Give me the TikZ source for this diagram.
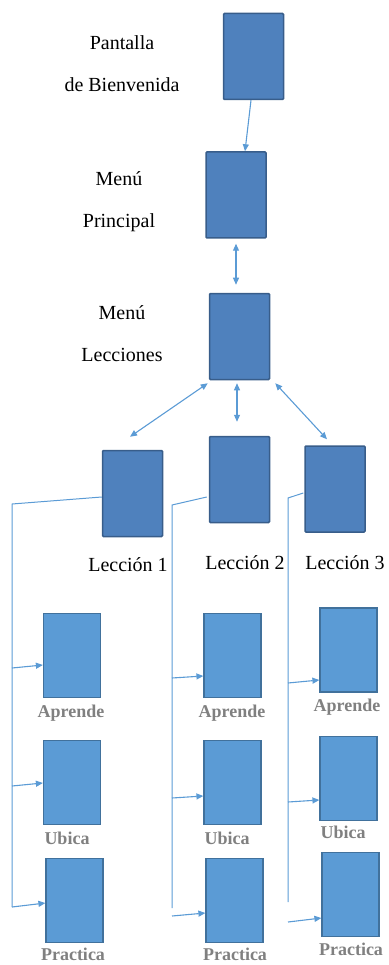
\documentclass[tikz,border=0pt]{standalone}
\usepackage{fontspec}
\setmainfont{Liberation Serif}
\usetikzlibrary{arrows.meta,calc}
\definecolor{cajaosc}{HTML}{4F81BD}
\definecolor{bordeosc}{HTML}{385D8A}
\definecolor{cajacla}{HTML}{5B9BD5}
\definecolor{bordecla}{HTML}{41719C}
\definecolor{linea}{HTML}{5B9BD5}

\begin{document}
\begin{tikzpicture}[x=1pt, y=-1pt,
    menu/.style={draw=bordeosc, line width=1.5pt, fill=cajaosc, rounded corners=1pt,
                 minimum width=60pt, minimum height=86pt, inner sep=0pt},
    seccion/.style={draw=bordecla, line width=1.2pt, fill=cajacla,
                    minimum width=57pt, minimum height=84pt, inner sep=0pt},
    titulo/.style={font=\fontsize{20}{42}\selectfont, align=center, inner sep=0pt},
    etiq/.style={font=\fontsize{18}{18}\selectfont\bfseries, text=black!50, inner sep=0pt},
    flecha/.style={draw=linea, line width=1.1pt, -{Triangle[length=7pt,width=6pt]}},
    doble/.style={draw=linea, line width=1.1pt,
                  {Triangle[length=7pt,width=6pt]}-{Triangle[length=7pt,width=6pt]}},
    bus/.style={draw=linea, line width=1pt},
  ]
    \useasboundingbox (0,0) rectangle (388,965);

    % Pantallas principales
    \node[menu] (bienvenida) at (253.5,56.5) {};
    \node[titulo] (tbienvenida) at (122,64) {Pantalla\\de Bienvenida};
    \node[menu] (principal) at (236,195) {};
    \node[titulo] (tprincipal) at (119,202) {Menú\\Principal};
    \node[menu] (lecciones) at (239.5,336.5) {};
    \node[titulo] (tlecciones) at (122,334) {Menú\\Lecciones};

    % Lecciones
    \node[menu] (leccion1) at (132.5,493.5) {};
    \node[menu] (leccion2) at (239.5,479.5) {};
    \node[menu] (leccion3) at (335,489) {};
    \node[titulo] (tleccion1) at (128,565) {Lección 1};
    \node[titulo] (tleccion2) at (245,563) {Lección 2};
    \node[titulo] (tleccion3) at (345,563) {Lección 3};

    % Secciones de cada lección
    \node[seccion] (apr1) at (72,655.5) {};
    \node[seccion] (ubi1) at (72,782.5) {};
    \node[seccion] (pra1) at (74.5,900.5) {};
    \node[seccion] (apr2) at (232.5,655.5) {};
    \node[seccion] (ubi2) at (232.5,782.5) {};
    \node[seccion] (pra2) at (234.5,900.5) {};
    \node[seccion] (apr3) at (348.5,650) {};
    \node[seccion] (ubi3) at (348.5,778.5) {};
    \node[seccion] (pra3) at (350.5,894.5) {};

    \node[etiq] (tapr1) at (71,713) {Aprende};
    \node[etiq] (tubi1) at (67,838) {Ubica};
    \node[etiq] (tpra1) at (73,954) {Practica};
    \node[etiq] (tapr2) at (232,713) {Aprende};
    \node[etiq] (tubi2) at (227,838) {Ubica};
    \node[etiq] (tpra2) at (235,954) {Practica};
    \node[etiq] (tapr3) at (347,707) {Aprende};
    \node[etiq] (tubi3) at (343,832) {Ubica};
    \node[etiq] (tpra3) at (351,949) {Practica};

    % flechas entre menus
    \draw[flecha] ([xshift=-2.5pt]bienvenida.south) -- ([xshift=9pt]principal.north);
    \draw[doble, shorten <=5pt, shorten >=8pt] (principal.south) -- (principal.south |- lecciones.north);
    \draw[doble] ([shift={(-1pt,-3pt)}]lecciones.south west) -- ([shift={(-2.5pt,13pt)}]leccion1.north);
    \draw[doble, shorten <=3pt, shorten >=14pt] ([xshift=-2.5pt]lecciones.south) -- ([xshift=-2.5pt]leccion2.north);
    \draw[doble] ([shift={(5pt,-3pt)}]lecciones.south east) -- ([shift={(-8pt,6pt)}]leccion3.north);

    % lineas hacia las secciones
    \coordinate (b1) at (12,504);
    \coordinate (b1e) at (12,907);
    \coordinate (b2) at (172,505);
    \coordinate (b2e) at (172,908);
    \coordinate (b3) at (288,498);
    \coordinate (b3e) at (288,902);
    \draw[bus] ([yshift=-3.5pt]leccion1.west) -- (b1) -- (b1e);
    \draw[bus] ([shift={(-2pt,-17.5pt)}]leccion2.west) -- (b2) -- (b2e);
    \draw[bus] ([shift={(-1pt,-4pt)}]leccion3.west) -- (b3) -- (b3e);

    \draw[flecha] ($(b1 |- apr1.west)+(0,12.5)$) -- ($(apr1.west)+(0,9.5)$);
    \draw[flecha] ($(b1 |- ubi1.west)+(0,3.5)$) -- ($(ubi1.west)+(0,0.5)$);
    \draw[flecha] ($(b1 |- pra1.west)+(0,6.5)$) -- ($(pra1.west)+(0,2.5)$);
    \draw[flecha] ($(b2 |- apr2.west)+(0,22.5)$) -- ($(apr2.west)+(0,20.5)$);
    \draw[flecha] ($(b2 |- ubi2.west)+(0,15.5)$) -- ($(ubi2.west)+(0,13.5)$);
    \draw[flecha] ($(b2 |- pra2.west)+(0,15.5)$) -- ($(pra2.west)+(0,12.5)$);
    \draw[flecha] ($(b3 |- apr3.west)+(0,33)$) -- ($(apr3.west)+(0,30)$);
    \draw[flecha] ($(b3 |- ubi3.west)+(0,23.5)$) -- ($(ubi3.west)+(0,21.5)$);
    \draw[flecha] ($(b3 |- pra3.west)+(0,27.5)$) -- ($(pra3.west)+(0,23.5)$);
\end{tikzpicture}
\end{document}
